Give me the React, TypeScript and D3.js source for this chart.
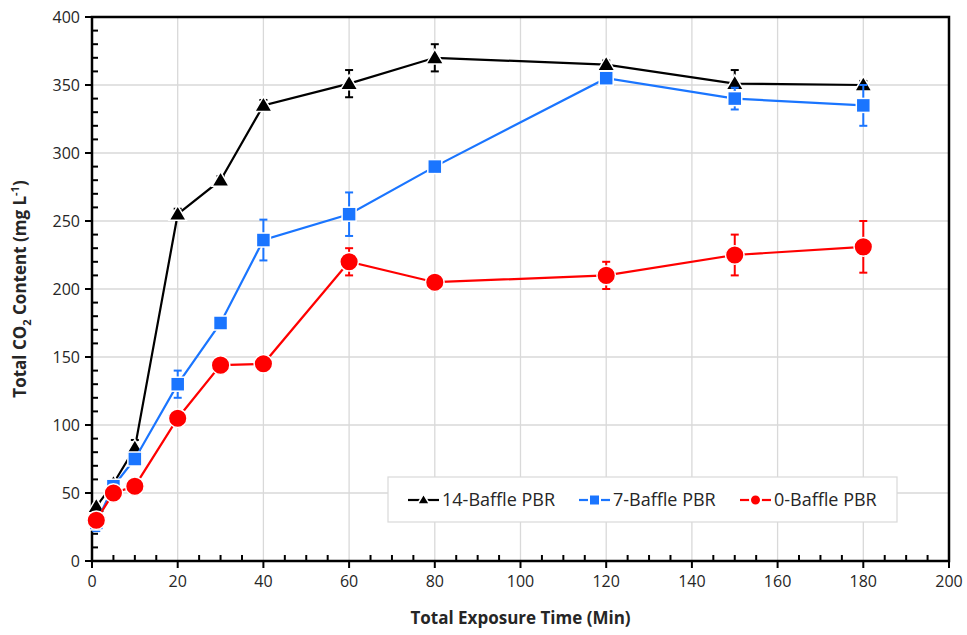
import React, { useRef, useEffect } from 'react';
import * as d3 from 'd3';

const times = [1, 5, 10, 20, 30, 40, 60, 80, 120, 150, 180];

const baffle14 = [40, 57, 83, 255, 280, 335, 351, 370, 365, 351, 350];
const baffle14Err = [3, 2, 6, 4, 3, 4, 10, 10, 3, 10, 3];

const baffle7 = [28, 55, 75, 130, 175, 236, 255, 290, 355, 340, 335];
const baffle7Err = [6, 3, 4, 10, 3, 15, 16, 3, 3, 8, 15];

const baffle0 = [30, 50, 55, 105, 144, 145, 220, 205, 210, 225, 231];
const baffle0Err = [3, 2, 2, 2, 2, 2, 10, 2, 10, 15, 19];

const seriesList = [
  { name: '14-Baffle PBR', values: baffle14, errors: baffle14Err, color: '#000000', shape: 'triangle' },
  { name: '7-Baffle PBR', values: baffle7, errors: baffle7Err, color: '#1a75ff', shape: 'square' },
  { name: '0-Baffle PBR', values: baffle0, errors: baffle0Err, color: '#ff0000', shape: 'circle' },
];

const xTicks = d3.range(0, 201, 20);
const yTicks = d3.range(0, 401, 50);

const FONT = '"Open Sans", "Liberation Sans", sans-serif';

const drawMarker = (g, shape, color, size) => {
  if (shape === 'circle') {
    g.append('circle').attr('r', size * 0.62).attr('fill', color).attr('stroke', '#fff').attr('stroke-width', 1.5);
  } else if (shape === 'square') {
    g.append('rect').attr('x', -size / 2).attr('y', -size / 2).attr('width', size).attr('height', size)
      .attr('fill', color).attr('stroke', '#fff').attr('stroke-width', 1.5);
  } else {
    const s = size * 0.62;
    g.append('path').attr('d', `M0,${-s} L${s},${s * 0.7} L${-s},${s * 0.7} Z`)
      .attr('fill', color).attr('stroke', '#fff').attr('stroke-width', 1.5);
  }
};

const App = () => {
  const svgRef = useRef();

  useEffect(() => {
    const svg = d3.select(svgRef.current);
    svg.selectAll('*').remove();

    const margin = { top: 17, right: 18, bottom: 74, left: 92 };
    const width = 967 - margin.left - margin.right;
    const height = 635 - margin.top - margin.bottom;

    const x = d3.scaleLinear().domain([0, 200]).range([0, width]);
    const y = d3.scaleLinear().domain([0, 400]).range([height, 0]);

    const g = svg.append('g').attr('transform', `translate(${margin.left},${margin.top})`);

    // grid
    g.append('g').selectAll('line').data(xTicks.slice(1)).enter().append('line')
      .attr('x1', d => x(d)).attr('x2', d => x(d)).attr('y1', 0).attr('y2', height)
      .attr('stroke', '#d9d9d9').attr('stroke-width', 1.3);
    g.append('g').selectAll('line').data(yTicks.slice(1)).enter().append('line')
      .attr('x1', 0).attr('x2', width).attr('y1', d => y(d)).attr('y2', d => y(d))
      .attr('stroke', '#d9d9d9').attr('stroke-width', 1.3);

    // frame
    g.append('rect').attr('width', width).attr('height', height)
      .attr('fill', 'none').attr('stroke', '#000').attr('stroke-width', 2.5);

    // ticks (minor inside, major outside)
    g.append('g').selectAll('line').data(d3.range(0, 401, 10)).enter().append('line')
      .attr('x1', 0).attr('x2', d => (d % 50 === 0 ? -7 : 6)).attr('y1', d => y(d)).attr('y2', d => y(d))
      .attr('stroke', '#000').attr('stroke-width', 2);
    g.append('g').selectAll('line').data(d3.range(0, 201, 5)).enter().append('line')
      .attr('y1', height).attr('y2', d => (d % 20 === 0 ? height + 7 : height - 6))
      .attr('x1', d => x(d)).attr('x2', d => x(d))
      .attr('stroke', '#000').attr('stroke-width', 2);

    // tick labels
    g.append('g').selectAll('text').data(yTicks).enter().append('text')
      .attr('x', -12).attr('y', d => y(d)).attr('dy', '0.35em')
      .attr('text-anchor', 'end').attr('font-family', FONT).attr('font-size', 16).attr('fill', '#262626')
      .text(d => d);
    g.append('g').selectAll('text').data(xTicks).enter().append('text')
      .attr('x', d => x(d)).attr('y', height + 26)
      .attr('text-anchor', 'middle').attr('font-family', FONT).attr('font-size', 16).attr('fill', '#262626')
      .text(d => d);

    // axis titles
    g.append('text').attr('x', width / 2).attr('y', height + 63)
      .attr('text-anchor', 'middle').attr('font-family', FONT).attr('font-size', 17).attr('font-weight', 'bold')
      .attr('fill', '#262626').text('Total Exposure Time (Min)');

    const yt = g.append('text').attr('transform', `translate(-66,${height / 2}) rotate(-90)`)
      .attr('text-anchor', 'middle').attr('font-family', FONT).attr('font-size', 17).attr('font-weight', 'bold')
      .attr('fill', '#262626');
    yt.append('tspan').text('Total CO');
    yt.append('tspan').attr('font-size', 11).attr('dy', 5).text('2');
    yt.append('tspan').attr('dy', -5).text(' Content (mg L');
    yt.append('tspan').attr('font-size', 11).attr('dy', -7).text('-1');
    yt.append('tspan').attr('dy', 7).text(')');

    const line = d3.line().x(d => x(d[0])).y(d => y(d[1]));

    seriesList.forEach(s => {
      const pts = times.map((t, i) => [t, s.values[i], s.errors[i]]);
      g.append('path').datum(pts).attr('d', line)
        .attr('fill', 'none').attr('stroke', s.color).attr('stroke-width', 2.2);

      const eb = g.append('g');
      pts.forEach(p => {
        eb.append('line').attr('x1', x(p[0])).attr('x2', x(p[0]))
          .attr('y1', y(p[1] - p[2])).attr('y2', y(p[1] + p[2]))
          .attr('stroke', s.color).attr('stroke-width', 2);
        [p[1] - p[2], p[1] + p[2]].forEach(v => {
          eb.append('line').attr('x1', x(p[0]) - 4).attr('x2', x(p[0]) + 4)
            .attr('y1', y(v)).attr('y2', y(v))
            .attr('stroke', s.color).attr('stroke-width', 2);
        });
      });

      pts.forEach(p => {
        const mg = g.append('g').attr('transform', `translate(${x(p[0])},${y(p[1])})`);
        drawMarker(mg, s.shape, s.color, s.shape === 'circle' ? 15 : 14);
      });
    });

    // legend
    const lg = g.append('g').attr('transform', `translate(${388 - margin.left},${477 - margin.top})`);
    lg.append('rect').attr('width', 509).attr('height', 45)
      .attr('fill', '#fff').attr('stroke', '#d9d9d9').attr('stroke-width', 1.2);
    const offsets = [20, 191, 352];
    seriesList.forEach((s, i) => {
      const item = lg.append('g').attr('transform', `translate(${offsets[i]},23)`);
      item.append('line').attr('x1', 0).attr('x2', 31).attr('y1', 0).attr('y2', 0)
        .attr('stroke', s.color).attr('stroke-width', 2.2);
      const mg = item.append('g').attr('transform', 'translate(15.5,0)');
      if (s.shape === 'circle') {
        mg.append('circle').attr('r', 5.5).attr('fill', s.color).attr('stroke', '#fff').attr('stroke-width', 2);
      } else if (s.shape === 'square') {
        mg.append('rect').attr('x', -5.5).attr('y', -5.5).attr('width', 11).attr('height', 11)
          .attr('fill', s.color).attr('stroke', '#fff').attr('stroke-width', 2);
      } else {
        mg.append('path').attr('d', 'M0,-6 L6,4 L-6,4 Z').attr('fill', s.color)
          .attr('stroke', '#fff').attr('stroke-width', 1.5);
      }
      item.append('text').attr('x', 34).attr('dy', '0.36em')
        .attr('font-family', FONT).attr('font-size', 18).attr('fill', '#262626').text(s.name);
    });
  }, []);

  return (
    <svg ref={svgRef} width="967" height="635" style={{ position: 'absolute', left: 0, top: 0 }}></svg>
  );
};

export default App;
